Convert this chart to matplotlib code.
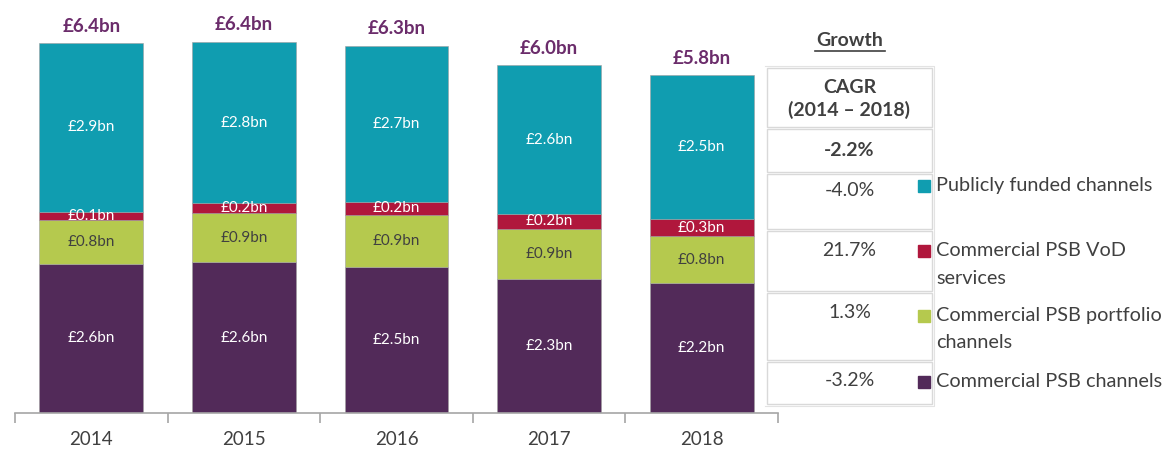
import matplotlib
matplotlib.use("Agg")
import matplotlib.pyplot as plt
from matplotlib.patches import Rectangle
import numpy as np

plt.rcParams['font.family'] = ['Lato', 'DejaVu Sans']

years = ['2014', '2015', '2016', '2017', '2018']
commercial = [2.58, 2.61, 2.53, 2.32, 2.25]
portfolio = [0.76, 0.85, 0.90, 0.87, 0.81]
vod = [0.14, 0.17, 0.22, 0.25, 0.29]
publicly = [2.92, 2.79, 2.70, 2.58, 2.49]

commercial_lbl = ['£2.6bn', '£2.6bn', '£2.5bn', '£2.3bn', '£2.2bn']
portfolio_lbl = ['£0.8bn', '£0.9bn', '£0.9bn', '£0.9bn', '£0.8bn']
vod_lbl = ['£0.1bn', '£0.2bn', '£0.2bn', '£0.2bn', '£0.3bn']
publicly_lbl = ['£2.9bn', '£2.8bn', '£2.7bn', '£2.6bn', '£2.5bn']
total_lbl = ['£6.4bn', '£6.4bn', '£6.3bn', '£6.0bn', '£5.8bn']

series_names = ['Publicly funded channels', 'Commercial PSB VoD\nservices',
                'Commercial PSB portfolio\nchannels', 'Commercial PSB channels']
cagr_header = 'CAGR\n(2014 – 2018)'
cagr_total = '-2.2%'
cagr_values = ['-4.0%', '21.7%', '1.3%', '-3.2%']

C_PUB = '#109DB0'
C_VOD = '#B0173C'
C_PORT = '#B5C94E'
C_COM = '#522A59'
C_TOT = '#6B2C6B'
C_TXT = '#404040'

W, H = 1170, 450
fig = plt.figure(figsize=(W / 100, H / 100), dpi=100)

# main axes: pixel x 15..778, baseline y=413
ax = fig.add_axes([15 / W, (H - 413) / H, (778 - 15) / W, 413 / H])
x = np.arange(len(years))
bw = 0.68
stack = [(commercial, C_COM, commercial_lbl, 'white'),
         (portfolio, C_PORT, portfolio_lbl, C_TXT),
         (vod, C_VOD, vod_lbl, 'white'),
         (publicly, C_PUB, publicly_lbl, 'white')]
bottom = np.zeros(len(years))
for vals, col, lbls, tcol in stack:
    vals = np.array(vals)
    ax.bar(x, vals, bw, bottom=bottom, color=col, edgecolor='#a0a0a0', linewidth=0.4)
    for i in range(len(years)):
        ax.text(x[i], bottom[i] + vals[i] / 2, lbls[i], ha='center', va='center',
                color=tcol, fontsize=11)
    bottom = bottom + vals
for i in range(len(years)):
    ax.annotate(total_lbl[i], (x[i], bottom[i]), xytext=(0, 17), textcoords='offset pixels',
                ha='center', va='center', color=C_TOT, fontsize=13.5, fontweight='bold')

ax.set_xlim(-0.5, len(years) - 0.5)
ax.set_ylim(0, 413 / 57.8)
for s in ['top', 'right', 'left']:
    ax.spines[s].set_visible(False)
ax.spines['bottom'].set_color('#a6a6a6')
ax.spines['bottom'].set_linewidth(1.2)
ax.set_yticks([])
ax.set_xticks(x)
ax.set_xticklabels(years, fontsize=13.5, color=C_TXT)
ax.tick_params(axis='x', which='major', length=0, pad=13)
ax.set_xticks(np.arange(-0.5, len(years)), minor=True)
ax.tick_params(axis='x', which='minor', length=7, color='#a6a6a6', width=1.2)

# overlay for table & legend in pixel coords
ov = fig.add_axes([0, 0, 1, 1])
ov.set_xlim(0, W)
ov.set_ylim(H, 0)
ov.axis('off')

cx0, cx1 = 767, 932
ccen = (cx0 + cx1) / 2
ov.text(ccen, 41, 'Growth', ha='center', va='center', fontsize=14, fontweight='bold', color=C_TXT)
ov.plot([ccen - 35, ccen + 35], [51, 51], color=C_TXT, lw=1.2)

rows = [(67, 128), (128, 173), (173, 230), (230, 292), (292, 361), (361, 405)]
for (y0, y1) in rows:
    ov.add_patch(Rectangle((cx0, y0 + 1), cx1 - cx0, y1 - y0 - 2, fill=False,
                           edgecolor='#d9d9d9', lw=1))
ov.plot([cx0 - 2, cx1 + 2, cx1 + 2, cx0 - 2], [66, 66, 406, 406], color='#e3e3e3', lw=0.8)
ov.text(ccen, 99, cagr_header, ha='center', va='center', fontsize=14, fontweight='bold',
        color=C_TXT, linespacing=1.35)
ov.text(ccen, 150, cagr_total, ha='center', va='center', fontsize=14, fontweight='bold', color=C_TXT)
val_y = [191, 250, 313, 381]
for v, yy in zip(cagr_values, val_y):
    ov.text(ccen, yy, v, ha='center', va='center', fontsize=14, color=C_TXT)

leg_y = [186, 251, 316, 382]
leg_cols = [C_PUB, C_VOD, C_PORT, C_COM]
for name, col, yy in zip(series_names, leg_cols, leg_y):
    ov.add_patch(Rectangle((918, yy - 6), 12, 12, color=col))
    ov.text(936, yy - 9, name, ha='left', va='top', fontsize=14.3, color=C_TXT,
            linespacing=1.75)

fig.savefig('out.png', dpi=100)
